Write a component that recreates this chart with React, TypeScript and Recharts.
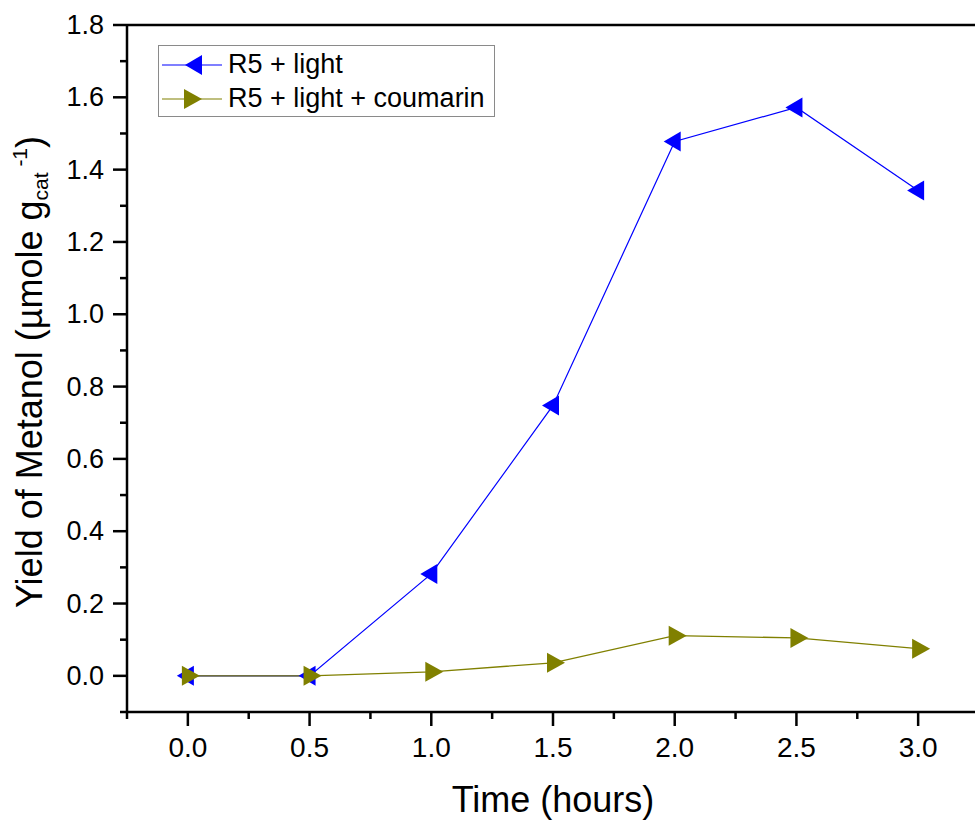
import { Legend, Line, LineChart, ReferenceLine, XAxis, YAxis } from "recharts";

const times = [0, 0.5, 1.0, 1.5, 2.0, 2.5, 3.0];
const lightYield = [0, 0, 0.282, 0.748, 1.478, 1.572, 1.342];
const coumarinYield = [0, 0, 0.011, 0.036, 0.111, 0.105, 0.075];

const xMajor = [0, 0.5, 1, 1.5, 2, 2.5, 3];
const xMinor = [-0.25, 0.25, 0.75, 1.25, 1.75, 2.25, 2.75, 3.25];
const yMajor = [0, 0.2, 0.4, 0.6, 0.8, 1.0, 1.2, 1.4, 1.6, 1.8];
const yMinor = [-0.1, 0.1, 0.3, 0.5, 0.7, 0.9, 1.1, 1.3, 1.5, 1.7];

const seriesNames = ["R5 + light", "R5 + light + coumarin"];
const BLUE = "#0000ff";
const OLIVE = "#808000";
const FONT = "'Liberation Sans', Arial, sans-serif";

const data = times.map((t, i) => ({
  time: t,
  light: lightYield[i],
  coumarin: coumarinYield[i],
}));

const isMajor = (list: number[], v: number) => list.some((m) => Math.abs(m - v) < 1e-6);

const LeftTri = ({ cx, cy, fill }) => (
  <polygon points={`${cx - 11},${cy} ${cx + 6},${cy - 10} ${cx + 6},${cy + 10}`} fill={fill} />
);
const RightTri = ({ cx, cy, fill }) => (
  <polygon points={`${cx + 12},${cy} ${cx - 6},${cy - 10} ${cx - 6},${cy + 10}`} fill={fill} />
);

const YTick = (props) => {
  const { x, y, payload } = props;
  const axisX = x + 23;
  const major = isMajor(yMajor, payload.value);
  return (
    <g>
      <line x1={axisX} x2={axisX - (major ? 14 : 7)} y1={y} y2={y} stroke="#000" strokeWidth={2.5} />
      {major && (
        <text x={x} y={y} dy={9} textAnchor="end" fontSize={27} fontFamily={FONT} fill="#000">
          {payload.value.toFixed(1)}
        </text>
      )}
    </g>
  );
};

const XTick = (props) => {
  const { x, y, payload } = props;
  const axisY = y - 21;
  const major = isMajor(xMajor, payload.value);
  return (
    <g>
      <line x1={x} x2={x} y1={axisY} y2={axisY + (major ? 14 : 7)} stroke="#000" strokeWidth={2.5} />
      {major && (
        <text x={x} y={axisY + 45} textAnchor="middle" fontSize={28} fontFamily={FONT} fill="#000">
          {payload.value.toFixed(1)}
        </text>
      )}
    </g>
  );
};

const LegendBox = () => (
  <div
    style={{
      width: 335,
      height: 70,
      border: "1px solid #8a8a8a",
      background: "#fff",
      fontFamily: FONT,
      fontSize: 27,
      color: "#000",
      lineHeight: "35px",
    }}
  >
    {seriesNames.map((name, i) => (
      <div key={name} style={{ display: "flex", alignItems: "center", height: 35, marginTop: i === 0 ? 1 : -1 }}>
        <svg width={66} height={30} style={{ marginLeft: 3, flex: "none" }}>
          <line x1={0} x2={60} y1={15} y2={15} stroke={i === 0 ? BLUE : OLIVE} strokeWidth={1.2} />
          {i === 0 ? <LeftTri cx={34} cy={15} fill={BLUE} /> : <RightTri cx={28} cy={15} fill={OLIVE} />}
        </svg>
        <span style={{ whiteSpace: "nowrap" }}>{name}</span>
      </div>
    ))}
  </div>
);

const YTitle = () => (
  <text
    transform="translate(42, 372) rotate(-90)"
    textAnchor="middle"
    fontSize={36}
    fontFamily={FONT}
    fill="#000"
  >
    <tspan>Yield of Metanol (µmole g</tspan>
    <tspan fontSize={21} dy={6}>cat</tspan>
    <tspan fontSize={21} dy={-21}> -1</tspan>
    <tspan dy={15}>)</tspan>
  </text>
);

const XTitle = () => (
  <text x={553} y={812} textAnchor="middle" fontSize={36} fontFamily={FONT} fill="#000">
    Time (hours)
  </text>
);

export default function App() {
  return (
    <div style={{ position: "absolute", left: 0, top: 0, width: 975, height: 823, overflow: "hidden", background: "#fff" }}>
      <LineChart width={1000} height={823} data={data} margin={{ top: 25, right: 21, left: 0, bottom: 0 }}>
        <XAxis
          dataKey="time"
          type="number"
          domain={[-0.25, 3.25]}
          ticks={[...xMinor, ...xMajor].sort((a, b) => a - b)}
          interval={0}
          height={111}
          tickSize={13}
          tickMargin={8}
          tickLine={false}
          tick={<XTick />}
          axisLine={{ stroke: "#000", strokeWidth: 2.5 }}
          label={<XTitle />}
        />
        <YAxis
          type="number"
          domain={[-0.1, 1.8]}
          ticks={[...yMinor, ...yMajor].sort((a, b) => a - b)}
          interval={0}
          width={127}
          tickSize={13}
          tickMargin={10}
          tickLine={false}
          tick={<YTick />}
          axisLine={{ stroke: "#000", strokeWidth: 2.5 }}
          label={<YTitle />}
        />
        <ReferenceLine y={1.8} stroke="#000" strokeWidth={2.5} />
        <Legend
          layout="vertical"
          align="center"
          verticalAlign="middle"
          content={<LegendBox />}
          wrapperStyle={{ left: 158, top: 45, width: 337, height: 72 }}
        />
        <Line
          type="linear"
          dataKey="light"
          name={seriesNames[0]}
          stroke={BLUE}
          strokeWidth={1.2}
          isAnimationActive={false}
          activeDot={false}
          dot={(p) => <LeftTri key={`l-${p.index}`} cx={p.cx} cy={p.cy} fill={BLUE} />}
        />
        <Line
          type="linear"
          dataKey="coumarin"
          name={seriesNames[1]}
          stroke={OLIVE}
          strokeWidth={1.3}
          isAnimationActive={false}
          activeDot={false}
          dot={(p) => <RightTri key={`c-${p.index}`} cx={p.cx} cy={p.cy} fill={OLIVE} />}
        />
      </LineChart>
    </div>
  );
}
